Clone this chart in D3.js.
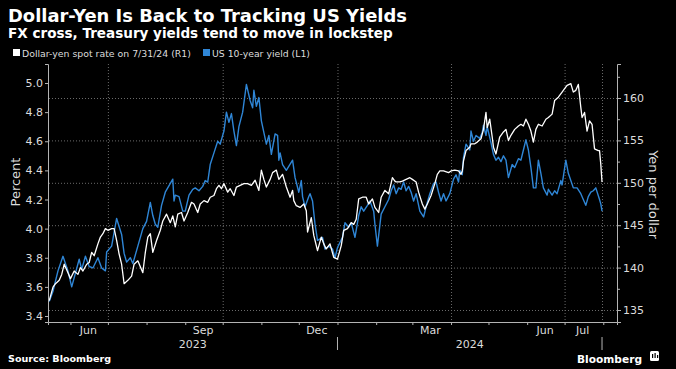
<!DOCTYPE html>
<html>
<head>
<meta charset="utf-8">
<script src="https://cdn.jsdelivr.net/npm/d3@7"></script>
<style>
  html, body { margin: 0; padding: 0; background: #000; }
  svg { display: block; font-family: "DejaVu Sans", sans-serif; }
</style>
</head>
<body>
<svg id="chart" width="676" height="369"></svg>
<script>
// Dollar-yen vs US 10-year yield, daily-ish readings May 2023 - Jul 2024

// ---- data ----------------------------------------------------------------

const yieldDates = [
  "2023-05-15","2023-05-18","2023-05-22","2023-05-26","2023-05-30","2023-06-02","2023-06-08","2023-06-10",
  "2023-06-13","2023-06-16","2023-06-19","2023-06-23","2023-06-26","2023-06-29","2023-06-30","2023-07-04",
  "2023-07-08","2023-07-12","2023-07-14","2023-07-16","2023-07-19","2023-07-21","2023-07-25","2023-07-29",
  "2023-08-01","2023-08-04","2023-08-06","2023-08-08","2023-08-10","2023-08-13","2023-08-16","2023-08-22",
  "2023-08-23","2023-08-24","2023-08-27","2023-08-30","2023-09-01","2023-09-04","2023-09-07","2023-09-09",
  "2023-09-12","2023-09-15","2023-09-17","2023-09-19","2023-09-21","2023-09-24","2023-09-27","2023-09-29",
  "2023-10-02","2023-10-04","2023-10-06","2023-10-08","2023-10-10","2023-10-12","2023-10-14","2023-10-17",
  "2023-10-20","2023-10-23","2023-10-25","2023-10-26","2023-10-28","2023-10-30","2023-11-01","2023-11-05",
  "2023-11-07","2023-11-09","2023-11-12","2023-11-14","2023-11-15","2023-11-16","2023-11-18","2023-11-21",
  "2023-11-26","2023-11-28","2023-12-01","2023-12-03","2023-12-04","2023-12-06","2023-12-09","2023-12-10",
  "2023-12-12","2023-12-14","2023-12-16","2023-12-20","2023-12-22","2023-12-25","2023-12-28","2023-12-30",
  "2024-01-01","2024-01-05","2024-01-07","2024-01-10","2024-01-12","2024-01-15","2024-01-18","2024-01-20",
  "2024-01-22","2024-01-25","2024-01-27","2024-01-30","2024-01-31","2024-02-02","2024-02-05","2024-02-08",
  "2024-02-11","2024-02-13","2024-02-15","2024-02-17","2024-02-19","2024-02-21","2024-02-23","2024-02-25",
  "2024-02-27","2024-02-29","2024-03-02","2024-03-04","2024-03-07","2024-03-10","2024-03-12","2024-03-15",
  "2024-03-18","2024-03-20","2024-03-22","2024-03-24","2024-03-26","2024-03-28","2024-03-31","2024-04-03",
  "2024-04-05","2024-04-07","2024-04-08","2024-04-10","2024-04-11","2024-04-13","2024-04-16","2024-04-17",
  "2024-04-19","2024-04-21","2024-04-24","2024-04-26","2024-04-27","2024-04-29","2024-04-30","2024-05-03",
  "2024-05-05","2024-05-07","2024-05-09","2024-05-11","2024-05-13","2024-05-15","2024-05-17","2024-05-20",
  "2024-05-22","2024-05-25","2024-05-27","2024-05-29","2024-05-31","2024-06-02","2024-06-04","2024-06-06",
  "2024-06-08","2024-06-10","2024-06-12","2024-06-14","2024-06-17","2024-06-18","2024-06-21","2024-06-23",
  "2024-06-25","2024-06-28","2024-06-29","2024-07-02","2024-07-04","2024-07-08","2024-07-11","2024-07-14",
  "2024-07-16","2024-07-18","2024-07-20","2024-07-22","2024-07-24","2024-07-26","2024-07-29","2024-07-30",
  "2024-07-31"
];
const yieldValues = [
  3.50,3.57,3.71,3.81,3.71,3.60,3.79,3.72,
  3.81,3.74,3.73,3.80,3.73,3.71,3.84,3.88,
  4.07,3.96,3.83,3.77,3.80,3.76,3.88,4.00,
  4.05,4.18,4.09,4.03,4.01,4.16,4.25,4.34,
  4.19,4.23,4.22,4.12,4.12,4.23,4.27,4.28,
  4.26,4.29,4.33,4.32,4.44,4.52,4.60,4.58,
  4.67,4.80,4.73,4.79,4.67,4.57,4.70,4.80,
  4.99,4.88,4.83,4.95,4.84,4.90,4.74,4.58,
  4.64,4.51,4.65,4.64,4.47,4.52,4.44,4.40,
  4.47,4.35,4.25,4.33,4.22,4.15,4.22,4.24,
  4.19,4.03,3.92,3.94,3.86,3.88,3.86,3.80,
  3.87,3.94,4.04,4.01,4.04,3.94,4.09,4.15,
  4.12,4.16,4.19,4.12,4.03,3.88,4.10,4.15,
  4.20,4.26,4.30,4.24,4.28,4.27,4.32,4.26,
  4.29,4.25,4.19,4.24,4.12,4.08,4.15,4.24,
  4.31,4.32,4.25,4.19,4.24,4.19,4.24,4.34,
  4.37,4.32,4.40,4.37,4.49,4.58,4.54,4.67,
  4.60,4.64,4.62,4.66,4.71,4.64,4.70,4.59,
  4.51,4.47,4.49,4.46,4.50,4.47,4.35,4.44,
  4.42,4.48,4.47,4.54,4.61,4.54,4.42,4.28,
  4.28,4.47,4.38,4.28,4.23,4.27,4.23,4.26,
  4.24,4.33,4.30,4.47,4.38,4.28,4.28,4.24,
  4.20,4.16,4.22,4.25,4.26,4.28,4.20,4.17,
  4.12
];

const yenDates = [
  "2023-05-15","2023-05-18","2023-05-20","2023-05-23","2023-05-25","2023-05-27","2023-05-30","2023-06-01",
  "2023-06-04","2023-06-07","2023-06-09","2023-06-11","2023-06-14","2023-06-16","2023-06-18","2023-06-20",
  "2023-06-23","2023-06-25","2023-06-27","2023-06-29","2023-07-01","2023-07-04","2023-07-06","2023-07-08",
  "2023-07-10","2023-07-12","2023-07-14","2023-07-17","2023-07-20","2023-07-22","2023-07-25","2023-07-29",
  "2023-07-31","2023-08-02","2023-08-04","2023-08-06","2023-08-09","2023-08-12","2023-08-14","2023-08-17",
  "2023-08-20","2023-08-22","2023-08-24","2023-08-26","2023-08-29","2023-08-31","2023-09-03","2023-09-06",
  "2023-09-08","2023-09-11","2023-09-13","2023-09-16","2023-09-19","2023-09-21","2023-09-24","2023-09-26",
  "2023-09-28","2023-09-30","2023-10-02","2023-10-05","2023-10-07","2023-10-10","2023-10-12","2023-10-15",
  "2023-10-18","2023-10-21","2023-10-24","2023-10-27","2023-10-30","2023-11-01","2023-11-03","2023-11-05",
  "2023-11-08","2023-11-10","2023-11-13","2023-11-15","2023-11-18","2023-11-21","2023-11-24","2023-11-26",
  "2023-11-27","2023-11-29","2023-12-02","2023-12-05","2023-12-07","2023-12-08","2023-12-11","2023-12-13",
  "2023-12-16","2023-12-19","2023-12-21","2023-12-23","2023-12-26","2023-12-29","2024-01-01","2024-01-04",
  "2024-01-06","2024-01-09","2024-01-12","2024-01-14","2024-01-16","2024-01-18","2024-01-21","2024-01-24",
  "2024-01-26","2024-01-29","2024-01-31","2024-02-03","2024-02-05","2024-02-08","2024-02-11","2024-02-14",
  "2024-02-16","2024-02-17","2024-02-20","2024-02-22","2024-02-25","2024-02-28","2024-03-01","2024-03-04",
  "2024-03-06","2024-03-09","2024-03-11","2024-03-13","2024-03-16","2024-03-19","2024-03-21","2024-03-23",
  "2024-03-26","2024-03-30","2024-04-01","2024-04-04","2024-04-07","2024-04-09","2024-04-10","2024-04-11",
  "2024-04-13","2024-04-16","2024-04-17","2024-04-20","2024-04-22","2024-04-25","2024-04-27","2024-04-29",
  "2024-04-30","2024-05-02","2024-05-04","2024-05-05","2024-05-07","2024-05-10","2024-05-13","2024-05-15",
  "2024-05-17","2024-05-19","2024-05-22","2024-05-25","2024-05-27","2024-05-29","2024-05-31","2024-06-02",
  "2024-06-04","2024-06-06","2024-06-08","2024-06-10","2024-06-13","2024-06-16","2024-06-18","2024-06-21",
  "2024-06-23","2024-06-26","2024-06-29","2024-07-01","2024-07-03","2024-07-06","2024-07-08","2024-07-10",
  "2024-07-12","2024-07-14","2024-07-15","2024-07-17","2024-07-19","2024-07-21","2024-07-23","2024-07-25",
  "2024-07-28","2024-07-29","2024-07-30","2024-07-31"
];
const yenValues = [
  136.1,137.7,138.1,138.5,139.2,140.4,139.4,138.7,
  139.6,139.2,140.0,139.6,140.4,140.6,141.8,141.4,
  142.8,143.6,144.0,144.6,144.4,144.6,144.6,143.2,
  141.6,140.4,138.1,138.5,139.0,140.4,140.8,139.4,
  141.8,143.6,144.0,141.8,143.2,144.4,145.5,146.3,
  145.3,146.1,144.8,146.3,146.5,145.5,146.5,147.7,
  147.5,146.5,147.5,147.9,147.7,148.3,148.5,149.3,
  149.7,149.3,149.9,148.9,149.3,148.5,149.5,149.7,
  149.9,149.9,149.7,150.3,149.1,151.5,150.4,149.5,
  150.4,151.2,151.5,150.4,151.0,149.5,148.3,149.1,
  147.9,147.3,147.1,147.5,146.7,144.2,145.9,143.8,
  142.0,143.6,142.8,142.2,142.8,141.2,141.0,142.6,
  144.4,144.6,145.3,145.1,145.7,148.1,148.3,148.3,
  147.5,148.1,147.1,146.5,148.3,149.1,148.7,150.6,
  150.2,150.1,150.1,150.2,150.4,150.6,150.4,150.1,
  148.9,147.5,146.9,147.5,148.5,149.9,151.0,151.4,
  151.4,151.2,151.4,151.5,151.4,151.0,151.4,152.6,
  153.8,154.2,154.6,154.6,154.8,155.2,156.3,158.3,
  156.5,157.5,155.4,154.2,153.4,155.4,156.0,156.3,
  155.0,155.6,156.3,156.7,156.9,156.7,157.5,156.9,
  156.1,154.8,156.3,156.9,156.7,157.5,157.7,158.1,
  159.7,160.1,160.7,161.1,161.5,161.7,160.7,160.9,
  161.6,158.9,157.7,158.3,156.1,157.3,156.9,154.0,
  153.8,153.8,152.2,150.1
];

// axis ticks and labels
const leftTicks = [3.4, 3.6, 3.8, 4.0, 4.2, 4.4, 4.6, 4.8, 5.0];
const rightTicks = [135, 140, 145, 150, 155, 160];
const rightMinorTicks = [132.5, 137.5, 142.5, 147.5, 152.5, 157.5, 162.5];
const monthStarts = ["2023-06-01","2023-07-01","2023-08-01","2023-09-01","2023-10-01","2023-11-01","2023-12-01",
                     "2024-01-01","2024-02-01","2024-03-01","2024-04-01","2024-05-01","2024-06-01","2024-07-01","2024-08-01"];
const monthLabelDates = ["2023-06-15","2023-09-15","2023-12-15","2024-03-15","2024-06-15","2024-07-15"];
const gridDates = ["2023-07-01","2023-10-01","2024-01-01","2024-04-01","2024-07-01","2024-07-31"];
const yearLabels = ["2023", "2024"];
const yearSpans = [["2023-05-14","2024-01-01"], ["2024-01-01","2024-07-31"]];
const yearSeparators = ["2024-01-01", "2024-07-31"];
const domainDates = ["2023-05-14", "2024-08-12"];

// ---- chart ----------------------------------------------------------------

const parse = d3.timeParse("%Y-%m-%d");
const svg = d3.select("#chart");
const W = 676, H = 369;
const margin = { top: 64, right: 59, bottom: 47, left: 48 };
const width = W - margin.left - margin.right;
const height = H - margin.top - margin.bottom;

const axisColor = "#b4b4b4";
const gridColor = "#6a6a6a";
const textColor = "#dcdcdc";
const blue = "#2f86d6";

svg.append("rect").attr("width", W).attr("height", H).attr("fill", "#000");

// scales
const x = d3.scaleTime().domain(domainDates.map(parse)).range([0, width]);
const yLeft = d3.scaleLinear().domain([3.3588, 5.1305]).range([height, 0]);
const yRight = d3.scaleLinear().domain([133.585, 164.01]).range([height, 0]);

const g = svg.append("g").attr("transform", `translate(${margin.left},${margin.top})`);

/// Shrink or grow a text's font so it spans the given width.
function fitWidth(sel, target)
 {
  const w = sel.node().getComputedTextLength();
  const size = parseFloat(sel.attr("font-size"));
  sel.attr("font-size", (size * target / w).toFixed(2));
 }

// horizontal gridlines follow the right axis
g.append("g")
  .attr("transform", `translate(${width},0)`)
  .call(d3.axisLeft(yRight).tickValues(rightTicks).tickSize(width).tickFormat(""))
  .call(a => a.select(".domain").remove())
  .selectAll("line")
    .attr("stroke", gridColor)
    .attr("stroke-dasharray", "1,2");

// vertical gridlines at quarter starts and the last date
g.append("g")
  .call(d3.axisBottom(x).tickValues(gridDates.map(parse)).tickSize(height).tickFormat(""))
  .call(a => a.select(".domain").remove())
  .selectAll("line")
    .attr("stroke", gridColor)
    .attr("stroke-dasharray", "1,2");

// lines
const yieldData = yieldDates.map((d, i) => ({ date: parse(d), value: yieldValues[i] }));
const yenData = yenDates.map((d, i) => ({ date: parse(d), value: yenValues[i] }));

g.append("path")
  .datum(yieldData)
  .attr("fill", "none")
  .attr("stroke", blue)
  .attr("stroke-width", 1.4)
  .attr("stroke-linejoin", "round")
  .attr("d", d3.line().x(d => x(d.date)).y(d => yLeft(d.value)));

g.append("path")
  .datum(yenData)
  .attr("fill", "none")
  .attr("stroke", "#ffffff")
  .attr("stroke-width", 1.3)
  .attr("stroke-linejoin", "round")
  .attr("d", d3.line().x(d => x(d.date)).y(d => yRight(d.value)));

// left axis
const leftAxis = g.append("g")
  .call(d3.axisLeft(yLeft).tickValues(leftTicks).tickFormat(d3.format(".1f")).tickSize(3).tickPadding(2));

// right axis with minor ticks
const rightAxis = g.append("g")
  .attr("transform", `translate(${width},0)`)
  .call(d3.axisRight(yRight).tickValues(rightTicks).tickSize(4).tickPadding(2));
g.append("g")
  .attr("transform", `translate(${width},0)`)
  .call(d3.axisRight(yRight).tickValues(rightMinorTicks.filter(v => v > 133.6 && v < 164)).tickSize(3).tickFormat(""))
  .call(a => a.select(".domain").remove());

// bottom axis: month ticks, then month labels at mid-month
g.append("g")
  .attr("transform", `translate(0,${height})`)
  .call(d3.axisBottom(x).tickValues(monthStarts.map(parse)).tickSize(3).tickFormat(""));
const monthAxis = g.append("g")
  .attr("transform", `translate(0,${height})`)
  .call(d3.axisBottom(x).tickValues(monthLabelDates.map(parse)).tickSize(0).tickPadding(4)
          .tickFormat(d3.timeFormat("%b")))
  .call(a => a.select(".domain").remove());

[leftAxis, rightAxis, monthAxis].forEach(a => a.selectAll("text")
  .attr("fill", textColor)
  .attr("font-family", "DejaVu Sans")
  .attr("font-size", 11));
g.selectAll(".domain").attr("stroke", axisColor);
g.selectAll(".tick line:not([stroke-dasharray])").attr("stroke", axisColor);

// year labels and separators
yearLabels.forEach((label, i) =>
 {
  const span = yearSpans[i].map(parse);
  g.append("text")
    .attr("x", (x(span[0]) + x(span[1])) / 2)
    .attr("y", height + 26)
    .attr("text-anchor", "middle")
    .attr("fill", textColor)
    .attr("font-size", 11)
    .text(label);
 });
yearSeparators.forEach(d =>
 {
  g.append("line")
    .attr("x1", x(parse(d))).attr("x2", x(parse(d)))
    .attr("y1", height + 15).attr("y2", height + 28)
    .attr("stroke", axisColor);
 });

// axis titles
svg.append("text")
  .attr("transform", `translate(20,${margin.top + yLeft(4.32)}) rotate(-90)`)
  .attr("text-anchor", "middle")
  .attr("fill", textColor)
  .attr("font-size", 13)
  .text("Percent");
svg.append("text")
  .attr("transform", `translate(649,${margin.top + yRight(148.6)}) rotate(90)`)
  .attr("text-anchor", "middle")
  .attr("fill", textColor)
  .attr("font-size", 13)
  .text("Yen per dollar");

// title, subtitle
const title = svg.append("text")
  .attr("x", 8).attr("y", 22)
  .attr("fill", "#fff").attr("font-weight", "bold").attr("font-size", 18)
  .text("Dollar-Yen Is Back to Tracking US Yields");
fitWidth(title, 399);
const subtitle = svg.append("text")
  .attr("x", 8).attr("y", 38)
  .attr("fill", "#fff").attr("font-weight", "bold").attr("font-size", 14)
  .text("FX cross, Treasury yields tend to move in lockstep");
fitWidth(subtitle, 385);

// legend
const legend = [
  { label: "Dollar-yen spot rate on 7/31/24 (R1)", color: "#fff", x: 13, w: 178 },
  { label: "US 10-year yield (L1)", color: blue, x: 203, w: 107 }
];
legend.forEach(item =>
 {
  svg.append("rect")
    .attr("x", item.x).attr("y", 49).attr("width", 7).attr("height", 7)
    .attr("fill", item.color);
  const t = svg.append("text")
    .attr("x", item.x + 9).attr("y", 57)
    .attr("fill", textColor).attr("font-size", 10)
    .text(item.label);
  fitWidth(t, item.w - 9);
 });

// footer
const source = svg.append("text")
  .attr("x", 8).attr("y", 362)
  .attr("fill", "#fff").attr("font-weight", "bold").attr("font-size", 10)
  .text("Source: Bloomberg");
fitWidth(source, 103);
const brand = svg.append("text")
  .attr("x", 577).attr("y", 363)
  .attr("fill", "#fff").attr("font-weight", "bold").attr("font-size", 13)
  .text("Bloomberg");
fitWidth(brand, 65);
svg.append("rect")
  .attr("x", 650).attr("y", 351).attr("width", 9).attr("height", 10).attr("rx", 1.5)
  .attr("fill", "#fff");
[[652, 354, 4], [654.5, 353, 5], [657, 355, 3]].forEach(b =>
 {
  svg.append("rect")
    .attr("x", b[0]).attr("y", b[1]).attr("width", 1.2).attr("height", b[2])
    .attr("fill", "#000");
 });
</script>
</body>
</html>
